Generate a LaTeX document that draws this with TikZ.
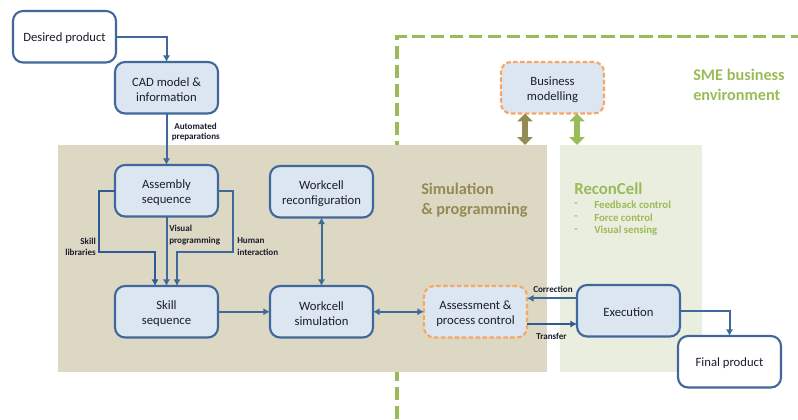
\documentclass[tikz,border=0pt]{standalone}
\usepackage{fontspec}
\setmainfont{Carlito}
\usetikzlibrary{arrows.meta,calc}
\definecolor{linkblue}{HTML}{41689C}
\definecolor{darklink}{HTML}{2F5A94}
\definecolor{boxfill}{HTML}{DCE6F1}
\definecolor{tanbg}{HTML}{DDD8C3}
\definecolor{greenbg}{HTML}{EAEEDF}
\definecolor{dashgreen}{HTML}{9BBB59}
\definecolor{olive}{HTML}{948A54}
\definecolor{dashorange}{HTML}{F79646}
\definecolor{inktext}{HTML}{1C1C2E}
\tikzset{
 x=0.75pt,y=-0.75pt,
 base/.style={rounded corners=7.5pt,minimum width=77.25pt,minimum height=38.6pt,outer sep=0pt,align=center,font=\fontsize{9.5}{11.4}\selectfont,text=inktext,inner sep=0pt,anchor=north west,execute at begin node={\rule{0pt}{9pt}}},
 pair/.style={execute at begin node={\rule{0pt}{20.5pt}}},
 whitebox/.style={base,draw=linkblue,line width=1.6pt,fill=white},
 bluebox/.style={base,draw=linkblue,line width=1.6pt,fill=boxfill},
 dashbox/.style={base,draw=dashorange!85!white,line width=1.6pt,dash pattern=on 3.4pt off 1.8pt,fill=boxfill},
 link/.style={draw=linkblue,line width=1.5pt,-{Latex[length=5pt,width=5.5pt]}},
 thicklink/.style={draw=darklink,line width=1.7pt,-{Latex[length=5pt,width=5.5pt]}},
 twolink/.style={draw=linkblue,line width=1.5pt,{Latex[length=5pt,width=5.5pt]}-{Latex[length=5pt,width=5.5pt]}},
 biglink/.style={line width=4.6pt,{Triangle[length=6pt,width=11.5pt]}-{Triangle[length=6pt,width=11.5pt]}},
 lab/.style={font=\fontsize{6.8}{8.4}\selectfont\bfseries,text=inktext,inner sep=0pt,align=left},
 head/.style={font=\fontsize{12.2}{15}\selectfont\bfseries,inner sep=0pt,align=left,anchor=west},
 item/.style={font=\fontsize{8.1}{9}\selectfont\bfseries,text=dashgreen,inner sep=0pt,anchor=west},
}
\begin{document}
\begin{tikzpicture}
\useasboundingbox (0,0) rectangle (798,419);
\draw[dashgreen,line width=2.7pt,dash pattern=on 10pt off 4.2pt] (397,419) -- (397,36.5) -- (798,36.5);
\fill[tanbg] (58,145) rectangle (547,372);
\fill[greenbg] (560,145) rectangle (702,372);

\node[whitebox] (desired) at (13,11) {Desired product};
\node[bluebox,pair] (cad) at (115,62) {CAD model \&\\information};
\node[bluebox,pair] (assembly) at (115,165) {Assembly\\sequence};
\node[bluebox,pair] (reconf) at (270,166) {Workcell\\reconfiguration};
\node[bluebox,pair] (skill) at (115,286) {Skill\\sequence};
\node[bluebox,pair] (sim) at (270,286) {Workcell\\simulation};
\node[dashbox,pair] (assess) at (424,286) {Assessment \&\\process control};
\node[bluebox] (exec) at (577,285) {Execution};
\node[whitebox] (final) at (678,336) {Final product};
\node[dashbox,pair] (business) at (501,62) {Business\\modelling};

\draw[link] (desired.east) -| (cad.north);
\draw[link] (cad.south) -- (assembly.north);
\draw[thicklink] (assembly.west) -- ++(-16,0) |- ++(56,61) coordinate (lc) -- (lc |- skill.north);
\draw[link] (assembly.south) -- (skill.north);
\draw[link] (assembly.east) -- ++(15,0) |- ++(-56,61) coordinate (rc) -- (rc |- skill.north);
\draw[twolink] (reconf.south) -- (sim.north);
\draw[link] (skill.east) -- (sim.west);
\draw[twolink] (sim.east) -- (assess.west);
\draw[link] ([yshift=9.3pt]exec.west) -- ([yshift=9.3pt]exec.west -| assess.east);
\draw[thicklink] ([yshift=-9.2pt]assess.east) -- ([yshift=-9.2pt]assess.east -| exec.west);
\draw[link] (exec.east) -| (final.north);
\coordinate (olivebot) at (525,145);
\coordinate (greenbot) at (577,145);
\draw[biglink,draw=olive,{Triangle[length=6pt,width=11.5pt,fill=olive]}-{Triangle[length=6pt,width=11.5pt,fill=olive]}] (olivebot |- business.south) -- (olivebot);
\draw[biglink,draw=dashgreen] (greenbot |- business.south) -- (greenbot);

\node[lab,anchor=west] (l1) at (174,126) {Automated};
\node[lab,anchor=west] (l2) at (171.5,137) {preparations};
\node[lab,anchor=east,align=right] (l3) at (96,246.5) {Skill\\libraries};
\node[lab,anchor=west] (l4) at (169,235) {Visual\\programming};
\node[lab,anchor=west] (l5) at (237,246.5) {Human\\interaction};
\node[lab,anchor=west] (l6) at (533,289) {Correction};
\node[lab,anchor=west] (l7) at (536,336) {Transfer};

\node[head,text=olive] (simhead) at (421,200) {Simulation\\\& programming};
\node[head,text=dashgreen,font=\fontsize{12.6}{15}\selectfont\bfseries] (rc1) at (574,189) {ReconCell};
\node[item] (d1) at (574,204.5) {-};
\node[item] (d2) at (574,217.5) {-};
\node[item] (d3) at (574,230.5) {-};
\node[item] (i1) at (594,204.5) {Feedback control};
\node[item] (i2) at (594,217.5) {Force control};
\node[item] (i3) at (594,230.5) {Visual sensing};
\node[head,text=dashgreen] (sme) at (693,85) {SME business\\environment};
\end{tikzpicture}
\end{document}
